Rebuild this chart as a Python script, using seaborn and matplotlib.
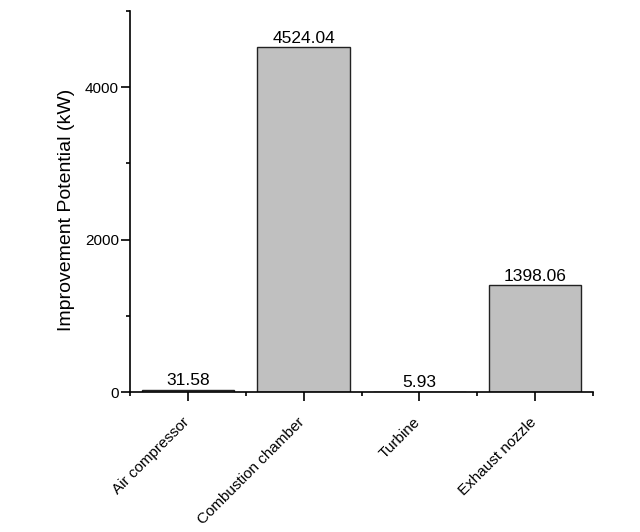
import pandas as pd
import seaborn as sns
import matplotlib.pyplot as plt
import matplotlib.transforms as mtrans
from matplotlib.ticker import MultipleLocator, FixedLocator

# Datos
componentes = ["Air compressor", "Combustion chamber", "Turbine", "Exhaust nozzle"]
potencial = [31.58, 4524.04, 5.93, 1398.06]
etiquetas = ["31.58", "4524.04", "5.93", "1398.06"]

df = pd.DataFrame({"componente": componentes, "potencial": potencial})

sns.set_style("ticks")
plt.rcParams["font.family"] = ["Liberation Sans", "DejaVu Sans"]
plt.rcParams["text.color"] = "black"

fig = plt.figure(figsize=(6.4, 5.32), dpi=100)
ax = fig.add_axes([130 / 640, 1 - 392 / 532, (593 - 130) / 640, (392 - 11) / 532])

sns.barplot(data=df, x="componente", y="potencial", color="#c0c0c0",
            edgecolor="#222222", linewidth=1.0, width=0.8, saturation=1, ax=ax)

for cont in ax.containers:
    ax.bar_label(cont, labels=etiquetas, padding=1, fontsize=12.5, color="black")

ax.set_xlim(-0.5, 3.5)
ax.set_ylim(0, 5000)
ax.yaxis.set_major_locator(MultipleLocator(2000))
ax.yaxis.set_minor_locator(MultipleLocator(1000))
ax.xaxis.set_minor_locator(FixedLocator([-0.5, 0.5, 1.5, 2.5, 3.5]))

ax.tick_params(which="major", direction="out", length=6.5, width=1.2, colors="black", labelsize=11)
ax.tick_params(which="minor", direction="out", length=3, width=1.2, colors="black")
ax.tick_params(axis="y", which="major", pad=1.5)

# etiquetas del eje x giradas y un poco desplazadas
desplaza = mtrans.ScaledTranslation(-6 / 100, -9 / 100, fig.dpi_scale_trans)
for lab in ax.get_xticklabels():
    lab.set_rotation(45)
    lab.set_ha("right")
    lab.set_rotation_mode("anchor")
    lab.set_transform(lab.get_transform() + desplaza)

for s in ["top", "right"]:
    ax.spines[s].set_visible(False)
for s in ["left", "bottom"]:
    ax.spines[s].set_linewidth(1.2)
    ax.spines[s].set_color("black")

ax.set_xlabel("")
ax.set_ylabel("Improvement Potential (kW)", fontsize=14, color="black")
ax.yaxis.set_label_coords(-0.118, 0.478)

fig.savefig("out.png", dpi=100)
